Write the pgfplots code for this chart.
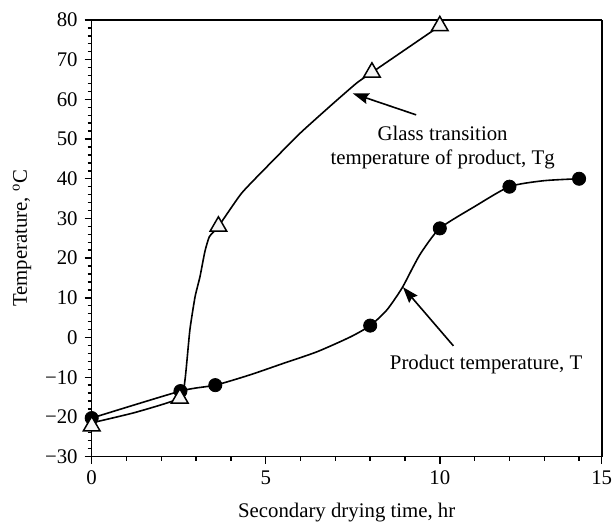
\documentclass[border=0pt]{standalone}
\usepackage{fontspec}
\setmainfont{Liberation Serif}
\usepackage{pgfplots}
\pgfplotsset{compat=1.18}
\usetikzlibrary{arrows.meta}
\begin{document}
\begin{tikzpicture}
\begin{axis}[
  scale only axis,
  width=255pt, height=218.3pt,
  xmin=0, xmax=14.65, ymin=-30, ymax=80,
  xtick={0,5,10,14.65},
  xticklabels={0,5,10,15},
  minor xtick={1,2,3,4,6,7,8,9,11,12,13,14},
  ytick={-30,-20,-10,0,10,20,30,40,50,60,70,80},
  yticklabels={−30,−20,−10,0,10,20,30,40,50,60,70,80},
  minor y tick num=4,
  tick align=outside,
  xtick pos=left, ytick pos=left,
  major tick length=3.5pt, minor tick length=2pt,
  tick style={black, line width=0.7pt},
  axis line style={line width=0.7pt},
  font=\fontsize{10.4}{12}\selectfont,
  /pgf/number format/assume math mode=true,
  xlabel={Secondary drying time, hr},
  ylabel={Temperature, \textsuperscript{o}C},
  xlabel style={yshift=-2.5pt},
  ylabel style={yshift=0pt},
  clip=false,
]
% product temperature T: curve
\addplot[black, line width=0.8pt, smooth, tension=0.4, mark=none]
  coordinates {(0,-20.3) (2.55,-13.5) (3.55,-12) (4.55,-9.4) (5.51,-6.5) (6.47,-3.6) (7.42,0.1) (8,3) (8.48,6.95) (8.91,12.4) (9.24,17.9) (9.48,21.6) (10,27.5) (11,33) (12,38) (12.98,39.5) (14,40)};
\addplot[only marks, mark=*, mark size=3.3pt, mark options={fill=black, draw=black}]
  coordinates {(0,-20.3) (2.55,-13.5) (3.55,-12) (8,3) (10,27.5) (12,38) (14,40)};
% glass transition temperature Tg
\addplot[black, line width=0.8pt, smooth, tension=0.3, mark=none]
  coordinates {(0,-21.5) (1.24,-18.9) (2.53,-15.3) (2.68,-10.7) (2.82,1.9) (2.97,10.3) (3.11,15.3) (3.25,21.6) (3.38,25.4) (3.64,28) (4.3,36.3) (5.03,43) (5.99,51.5) (6.94,59) (7.61,64.1) (8.05,66.8) (10,78.5)};
\addplot[only marks, mark=triangle*, mark size=4.8pt, mark options={fill=gray!8, draw=black, line width=0.75pt}]
  coordinates {(0,-22.3) (2.53,-15.3) (3.64,28) (8.05,66.8) (10,78.5)};
\draw[line width=0.7pt] (rel axis cs:0,1) -- (rel axis cs:1,1);
\draw[line width=0.9pt, black] (rel axis cs:1,0) -- (rel axis cs:1,1);
\draw[line width=0.8pt, -{Stealth[length=8pt,width=5.5pt,inset=1pt]}] (axis cs:9.32,56.1) -- (axis cs:7.5,61.5);
\draw[line width=0.8pt, -{Stealth[length=8pt,width=5.5pt,inset=1pt]}] (axis cs:10.39,-2.1) -- (axis cs:8.94,12.7);
\node[align=center, font=\fontsize{10.4}{12.3}\selectfont] at (axis cs:10.08,47.9) {Glass transition\\temperature of product, Tg};
\node[font=\fontsize{10.4}{12}\selectfont] at (axis cs:11.33,-6.9) {Product temperature, T};
\end{axis}
\pgfresetboundingbox
\path ([shift={(-45.85pt,-33.15pt)}]current axis.south west) rectangle ([shift={(5.65pt,10pt)}]current axis.north east);
\end{tikzpicture}
\end{document}
